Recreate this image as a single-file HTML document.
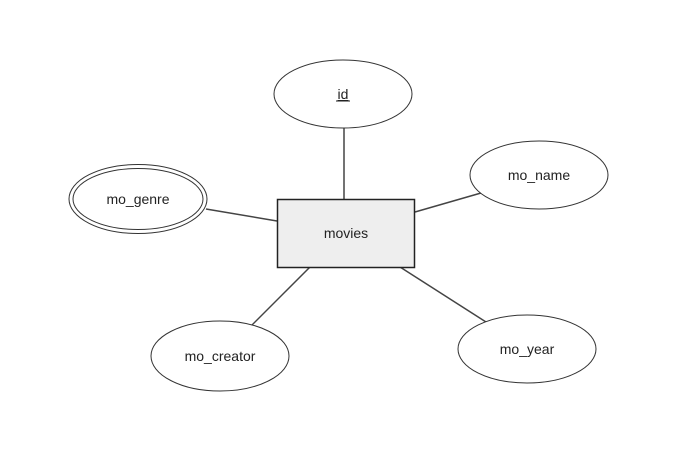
<!DOCTYPE html>
<html><head><style>html,body{margin:0;padding:0;background:#fff;}</style></head>
<body>
<svg width="699" height="444" xmlns="http://www.w3.org/2000/svg" font-family="Liberation Sans, sans-serif" font-size="14" fill="none">
<g stroke="#444" stroke-width="1.5">
<line x1="344" y1="128" x2="344" y2="199"/>
<line x1="206" y1="209" x2="277" y2="221"/>
<line x1="415" y1="212" x2="481" y2="193"/>
<line x1="310" y1="267" x2="250" y2="327"/>
<line x1="400" y1="267" x2="486" y2="322"/>
</g>
<g stroke="#333" stroke-width="1" fill="#fff">
<ellipse cx="343" cy="94" rx="69" ry="34"/>
<ellipse cx="138" cy="199" rx="69" ry="34.5"/>
<ellipse cx="138" cy="199" rx="65" ry="30.5"/>
<ellipse cx="539" cy="175" rx="69" ry="34"/>
<ellipse cx="220" cy="356" rx="69" ry="35"/>
<ellipse cx="527" cy="349" rx="69" ry="34"/>
<rect x="277.5" y="199.5" width="137" height="68" fill="#eeeeee" stroke="#222" stroke-width="1.5"/>
</g>
<g fill="#222" text-anchor="middle">
<text x="343" y="99" text-decoration="underline">id</text>
<line x1="336" y1="101" x2="350" y2="101" stroke="#222" stroke-width="1"/>
<text x="138" y="204">mo_genre</text>
<text x="539" y="180">mo_name</text>
<text x="220" y="361">mo_creator</text>
<text x="527" y="354">mo_year</text>
<text x="346" y="238">movies</text>
</g>
</svg>
</body></html>
